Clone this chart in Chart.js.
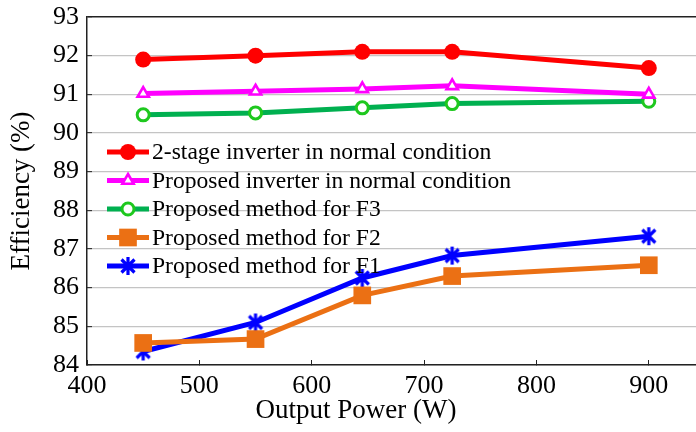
<!DOCTYPE html>
<html><head><meta charset="utf-8">
<script src="https://cdn.jsdelivr.net/npm/chart.js@4/dist/chart.umd.min.js"></script>
<style>html,body{margin:0;padding:0;background:#fff}</style>
</head><body>
<canvas id="c" width="696" height="432"></canvas>
<script>
const outputPower = [450, 550, 645, 725, 900];
const twoStageNormal = [91.9, 92.0, 92.1, 92.1, 91.68];
const proposedNormal = [91.02, 91.08, 91.14, 91.22, 91.0];
const proposedF3 = [90.47, 90.52, 90.65, 90.76, 90.82];
const proposedF2 = [84.57, 84.67, 85.8, 86.3, 86.58];
const proposedF1 = [84.35, 85.1, 86.25, 86.83, 87.33];
const xTicks = [400, 500, 600, 700, 800, 900];
const seriesNames = [
  '2-stage inverter in normal condition',
  'Proposed inverter in normal condition',
  'Proposed method for F3',
  'Proposed method for F2',
  'Proposed method for F1'
];
const xTitle = 'Output Power (W)';
const yTitle = 'Efficiency (%)';

const FONT = '"Liberation Serif", "Times New Roman", Times, serif';

function asterisk(color) {
  const c = document.createElement('canvas');
  c.width = 20; c.height = 20;
  const g = c.getContext('2d');
  g.strokeStyle = color; g.lineWidth = 3.2; g.lineCap = 'butt';
  g.beginPath();
  g.moveTo(10, 1); g.lineTo(10, 19);
  g.moveTo(3.5, 3.5); g.lineTo(16.5, 16.5);
  g.moveTo(16.5, 3.5); g.lineTo(3.5, 16.5);
  g.stroke();
  return c;
}
const starImg = asterisk('#0000ff');

const mk = (vals) => outputPower.map((x, i) => ({x, y: vals[i]}));

const datasets = [
  {label: seriesNames[0], data: mk(twoStageNormal), borderColor: '#ff0000', backgroundColor: '#ff0000',
   pointStyle: 'circle', pointRadius: 8, pointBorderWidth: 0, pointBackgroundColor: '#ff0000', pointBorderColor: '#ff0000'},
  {label: seriesNames[1], data: mk(proposedNormal), borderColor: '#ff00ff', backgroundColor: '#ffffff',
   pointStyle: 'triangle', pointRadius: 6.5, pointBorderWidth: 2.6, pointBackgroundColor: '#ffffff', pointBorderColor: '#ff00ff'},
  {label: seriesNames[2], data: mk(proposedF3), borderColor: '#00b050', backgroundColor: '#ffffff',
   pointStyle: 'circle', pointRadius: 6, pointBorderWidth: 3, pointBackgroundColor: '#ffffff', pointBorderColor: '#1ec81e'},
  {label: seriesNames[3], data: mk(proposedF2), borderColor: '#eb7014', backgroundColor: '#eb7014',
   pointStyle: 'rect', pointRadius: 12.5, pointBorderWidth: 0, pointBackgroundColor: '#eb7014', pointBorderColor: '#eb7014'},
  {label: seriesNames[4], data: mk(proposedF1), borderColor: '#0000ff', backgroundColor: '#0000ff',
   pointStyle: starImg, pointRadius: 9, pointBorderWidth: 0, pointBackgroundColor: '#0000ff', pointBorderColor: '#0000ff'}
];
datasets.forEach(d => { d.borderWidth = 5; d.tension = 0; d.fill = false; d.pointHoverRadius = d.pointRadius; });

const legendPlugin = {
  id: 'refLegend',
  afterDatasetsDraw(chart) {
    const ctx = chart.ctx;
    const rows = [152, 180.5, 209, 237.5, 266];
    chart.data.datasets.forEach((ds, i) => {
      const y = rows[i];
      ctx.save();
      ctx.strokeStyle = ds.borderColor; ctx.lineWidth = 5; ctx.lineCap = 'butt';
      ctx.beginPath(); ctx.moveTo(107, y); ctx.lineTo(149, y); ctx.stroke();
      ctx.fillStyle = ds.pointBackgroundColor; ctx.strokeStyle = ds.pointBorderColor;
      ctx.lineWidth = ds.pointBorderWidth;
      Chart.helpers.drawPoint(ctx, {pointStyle: ds.pointStyle, radius: ds.pointRadius, rotation: 0, borderWidth: ds.pointBorderWidth}, 128, y);
      ctx.restore();
      ctx.save();
      ctx.fillStyle = '#000'; ctx.font = '23.6px ' + FONT;
      ctx.textAlign = 'left'; ctx.textBaseline = 'middle';
      ctx.fillText(ds.label, 152, y + 1);
      ctx.restore();
    });
  },
  afterDraw(chart) {
    const ctx = chart.ctx;
    ctx.save();
    ctx.fillStyle = '#000'; ctx.font = '27px ' + FONT;
    ctx.textAlign = 'center'; ctx.textBaseline = 'middle';
    ctx.fillText(xTitle, 356, 411);
    ctx.restore();
  }
};

new Chart(document.getElementById('c'), {
  type: 'line',
  data: {datasets},
  options: {
    responsive: false, animation: false, devicePixelRatio: 1,
    layout: {autoPadding: false, padding: {top: 17, right: 0, left: 0, bottom: 0}},
    plugins: {legend: {display: false}, tooltip: {enabled: false}},
    scales: {
      x: {
        type: 'linear', min: 400, max: 942,
        afterBuildTicks: s => { s.ticks = xTicks.map(v => ({value: v})); },
        afterFit: s => { s.height = 67; s.paddingLeft = 0; s.paddingRight = 0; },
        ticks: {color: '#000', font: {family: FONT, size: 26}, padding: 11, maxRotation: 0, autoSkip: false},
        grid: {drawOnChartArea: false, drawTicks: true, tickLength: -5, tickColor: '#222', tickWidth: 1},
        border: {color: '#222', width: 1.5}
      },
      y: {
        min: 84, max: 93,
        afterFit: s => { s.width = 87; s.paddingTop = 0; s.paddingBottom = 0; },
        ticks: {stepSize: 1, color: '#000', font: {family: FONT, size: 26}, padding: 13},
        grid: {color: c => (c.tick && c.tick.value === 93) ? '#222' : '#c4c4c4', lineWidth: c => (c.tick && c.tick.value === 93) ? 1.5 : 1.3,
               tickLength: -5, tickColor: '#222', tickWidth: 1},
        border: {color: '#222', width: 1.5},
        title: {display: true, text: yTitle, color: '#000', font: {family: FONT, size: 27}, padding: {top: 6, bottom: 0}}
      }
    }
  },
  plugins: [legendPlugin]
});
</script>
</body></html>
